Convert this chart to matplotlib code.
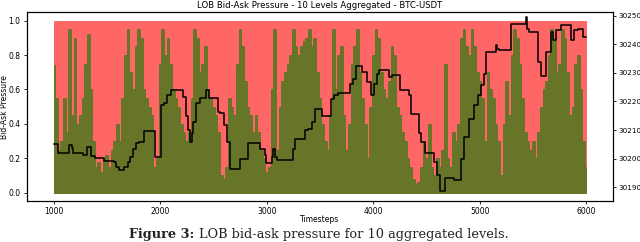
import matplotlib
matplotlib.use("Agg")
import matplotlib.pyplot as plt
import numpy as np

# bid pressure (share of bid volume in 10 aggregated levels), read every 25 timesteps
timesteps = np.arange(1000, 6001, 25)
bid_pressure = [
    0.74, 0.55, 0.25, 0.30, 0.55, 0.35, 0.95, 0.45, 0.90, 0.40,
    0.45, 0.55, 0.75, 0.92, 0.60, 0.30, 0.15, 0.18, 0.12, 0.20,
    0.22, 0.15, 0.25, 0.30, 0.40, 0.30, 0.55, 0.80, 0.95, 0.70,
    0.60, 0.85, 0.95, 0.90, 0.60, 0.55, 0.50, 0.45, 0.15, 0.20,
    0.75, 0.95, 0.80, 0.90, 0.75, 0.60, 0.55, 0.50, 0.40, 0.35,
    0.30, 0.35, 0.55, 0.95, 0.90, 0.70, 0.75, 0.85, 0.60, 0.55,
    0.50, 0.45, 0.35, 0.10, 0.08, 0.15, 0.55, 0.50, 0.45, 0.75,
    0.95, 0.85, 0.65, 0.50, 0.45, 0.35, 0.45, 0.35, 0.25, 0.20,
    0.12, 0.15, 0.60, 0.95, 0.25, 0.50, 0.65, 0.70, 0.75, 0.80,
    0.95, 0.85, 0.80, 0.85, 0.88, 0.90, 0.95, 0.85, 0.90, 0.70,
    0.55, 0.40, 0.30, 0.25, 0.45, 0.95, 0.60, 0.80, 0.85, 0.45,
    0.25, 0.40, 0.75, 0.85, 0.95, 0.70, 0.55, 0.40, 0.20, 0.50,
    0.80, 0.95, 0.90, 0.70, 0.60, 0.55, 0.65, 0.85, 0.80, 0.50,
    0.45, 0.35, 0.30, 0.20, 0.15, 0.08, 0.05, 0.06, 0.15, 0.30,
    0.20, 0.40, 0.15, 0.10, 0.20, 0.15, 0.25, 0.75, 0.20, 0.15,
    0.35, 0.30, 0.40, 0.90, 0.95, 0.85, 0.80, 0.95, 0.85, 0.70,
    0.65, 0.55, 0.30, 0.70, 0.60, 0.55, 0.40, 0.30, 0.10, 0.40,
    0.65, 0.45, 0.80, 0.95, 0.90, 0.75, 0.55, 0.35, 0.30, 0.25,
    0.30, 0.20, 0.35, 0.50, 0.60, 0.65, 0.80, 0.95, 0.90, 0.70,
    0.75, 0.95, 0.90, 0.70, 0.45, 0.50, 0.75, 0.80, 0.60, 0.30,
    0.15,
]

# mid price, change points (timestep, price)
price_t = [1000, 1040, 1145, 1175, 1185, 1280, 1315, 1350, 1390, 1470,
           1565, 1590, 1610, 1665, 1695, 1720, 1750, 1770, 1800, 1845,
           1955, 2010, 2035, 2060, 2100, 2210, 2240, 2260, 2276, 2298,
           2310, 2338, 2370, 2432, 2463, 2542, 2563, 2598, 2629, 2660,
           2745, 2823, 2935, 2982, 2997, 3051, 3063, 3080, 3100, 3248,
           3263, 3357, 3389, 3429, 3451, 3517, 3605, 3636, 3667, 3783,
           3814, 3836, 3893, 3940, 3980, 4002, 4035, 4049, 4145, 4177,
           4255, 4333, 4358, 4427, 4452, 4483, 4567, 4599, 4630, 4671,
           4755, 4821, 4852, 4899, 4946, 4978, 5009, 5040, 5056, 5150,
           5165, 5181, 5290, 5430, 5445, 5465, 5543, 5574, 5621, 5668,
           5684, 5715, 5762, 5856, 5887, 5918, 5965, 6000]
price = [30205, 30202, 30204.7, 30203.8, 30202, 30201.2, 30204.1, 30201, 30200.3, 30199.3,
         30198.7, 30197, 30196, 30197.1, 30198.8, 30200.6, 30203.5, 30205.3, 30205.9, 30209.8,
         30200.6, 30218.7, 30219.3, 30222.2, 30224, 30221.6, 30215, 30210, 30205.9, 30209,
         30212.9, 30219.3, 30221.3, 30224, 30221.3, 30216.4, 30215.8, 30211.7, 30205.9, 30196.3,
         30199.8, 30205.3, 30203.5, 30201.2, 30198.3, 30200.6, 30203.5, 30200.6, 30199.5, 30203.5,
         30207, 30210, 30210.5, 30212.9, 30217.2, 30214.9, 30221, 30222.2, 30223, 30226.2,
         30228, 30232.4, 30230.3, 30226.8, 30222.2, 30226.2, 30229.7, 30230.9, 30228.6, 30229.4,
         30224, 30222.2, 30215.6, 30208.8, 30205.9, 30201.8, 30198.8, 30194.2, 30188.8, 30193.3,
         30192.5, 30200, 30207.6, 30214, 30218.7, 30222.2, 30225.6, 30229.7, 30237.3, 30239.9,
         30238.5, 30237.9, 30247.3, 30249.5, 30245.5, 30244.4, 30233.8, 30228.9, 30237.3, 30244.4,
         30241.4, 30245, 30246.7, 30241.4, 30245, 30245.5, 30242.6, 30242.6]

fig = plt.figure(figsize=(6.4, 2.42), dpi=100)
ax = fig.add_axes([0.042, 0.169, 0.916, 0.781])

ax.fill_between(timesteps, 0, 1, color="red", alpha=0.6, linewidth=0.5)
ax.fill_between(timesteps, 0, bid_pressure, step="mid", color="green", alpha=0.6, linewidth=0.5)
ax.set_ylabel("Bid-Ask Pressure", fontsize=5.5)
ax.yaxis.set_label_coords(-0.031, 0.5)
ax.set_xlabel("Timesteps", fontsize=5.5)
ax.xaxis.set_label_coords(0.5, -0.075)
ax.set_title("LOB Bid-Ask Pressure - 10 Levels Aggregated - BTC-USDT", fontsize=6.1, pad=3)
ax.tick_params(labelsize=5.5, length=2.5, width=0.6, pad=2)
ax.set_xticks([1000, 2000, 3000, 4000, 5000, 6000])
ax.set_yticks([0.0, 0.2, 0.4, 0.6, 0.8, 1.0])

ax2 = ax.twinx()
ax2.plot(price_t, price, drawstyle="steps-post", color="black", linewidth=1.1)
ax2.set_ylim(30185.1, 30251.3)
ax2.set_yticks([30190, 30200, 30210, 30220, 30230, 30240, 30250])
ax2.tick_params(labelsize=5.2, length=2.5, width=0.6, pad=1.2)

for a in (ax, ax2):
    for s in a.spines.values():
        s.set_linewidth(0.8)

# caption
cap_y = 0.033
t1 = fig.text(0.202, cap_y, "Figure 3:", fontsize=9.3, fontweight="bold",
              family="DejaVu Serif", va="center", color="#222222")
fig.canvas.draw()
bb = t1.get_window_extent()
fig.text(bb.x1 / fig.bbox.width + 0.007, cap_y,
         "LOB bid-ask pressure for 10 aggregated levels.",
         fontsize=9.3, family="DejaVu Serif", va="center", color="#222222")

fig.savefig("out.png", dpi=100)
